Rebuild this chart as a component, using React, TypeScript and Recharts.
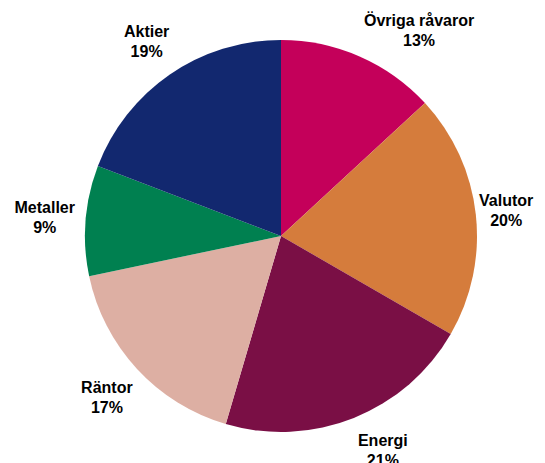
import React from 'react';
import { PieChart, Pie, Cell } from 'recharts';

const categories = ['Övriga råvaror', 'Valutor', 'Energi', 'Räntor', 'Metaller', 'Aktier'];
const shares = [13, 20, 21, 17, 9, 19];
const colors = ['#C4005A', '#D57C3C', '#7A0F45', '#DDAFA3', '#008050', '#12286F'];

const data = categories.map((name, i) => ({ name, value: shares[i] }));

const RADIAN = Math.PI / 180;
const W = 545;
const H = 463;
const FS = 16;

const renderLabel = (props: any) => {
  const { cx, cy, midAngle, index } = props;
  const R = 237;
  let x = cx + R * Math.cos(-midAngle * RADIAN);
  let y = cy + R * Math.sin(-midAngle * RADIAN);
  const sign = x >= cx ? 1 : -1;
  if (y < 30) {
    const R2 = 248;
    y = 30;
    x = cx + sign * Math.sqrt(R2 * R2 - (cy - y) * (cy - y));
  } else if (y > 450) {
    y = 450;
    x = cx + sign * Math.sqrt(R * R - (y - cy) * (y - cy));
  }
  const label = categories[index];
  const half = (label.length * FS * 0.55) / 2;
  if (x + half > W - 8) x = W - 8 - half;
  if (x - half < 8) x = 8 + half;
  return (
    <text
      x={x}
      y={y}
      textAnchor="middle"
      fontFamily="'Liberation Sans', Arial, sans-serif"
      fontWeight="bold"
      fontSize={FS}
      fill="#000"
    >
      <tspan x={x} y={y - 4}>{label}</tspan>
      <tspan x={x} y={y + 16}>{shares[index]}%</tspan>
    </text>
  );
};

export default function App() {
  return (
    <div style={{ position: 'absolute', left: 0, top: 0, width: W, height: H }}>
      <PieChart width={W} height={H}>
        <Pie
          data={data}
          dataKey="value"
          nameKey="name"
          cx={276}
          cy={231}
          outerRadius={196}
          startAngle={90}
          endAngle={-270}
          stroke="none"
          label={renderLabel}
          labelLine={false}
          isAnimationActive={false}
        >
          {data.map((d, i) => (
            <Cell key={d.name} fill={colors[i]} />
          ))}
        </Pie>
      </PieChart>
    </div>
  );
}
